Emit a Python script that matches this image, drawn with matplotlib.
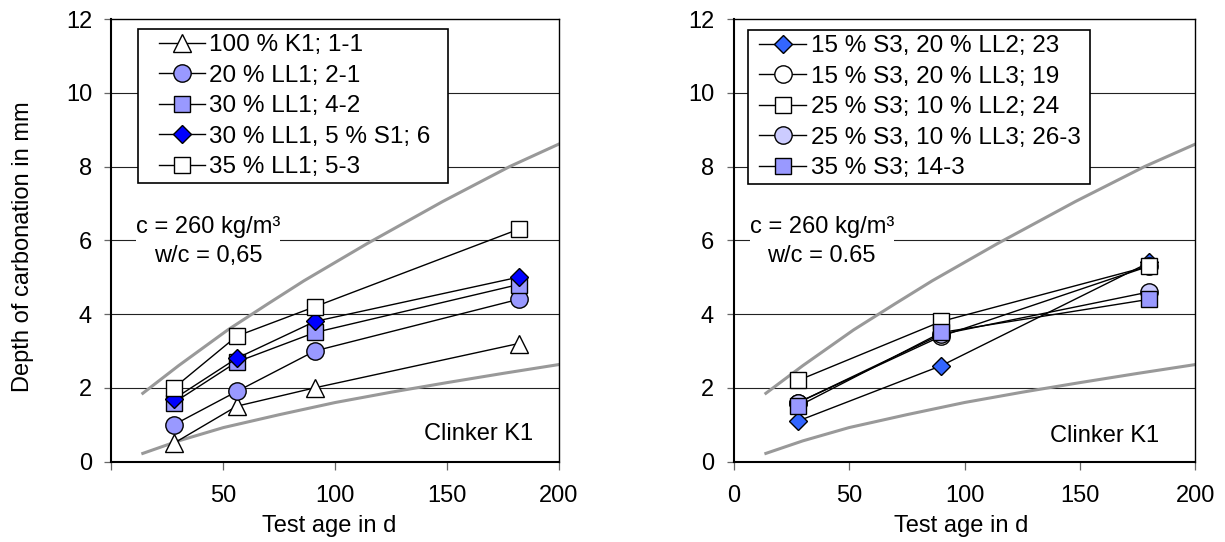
import matplotlib
matplotlib.use("Agg")
import matplotlib.pyplot as plt
from matplotlib.lines import Line2D
from matplotlib.legend_handler import HandlerLine2D

plt.rcParams['font.family'] = ['Liberation Sans', 'DejaVu Sans']

# test ages in days
age_left = [28, 56, 91, 182]
age_right = [28, 90, 180]

# depth of carbonation in mm, clinker K1 mixes
k1_100 = [0.5, 1.5, 2.0, 3.2]
ll1_20 = [1.0, 1.9, 3.0, 4.4]
ll1_30 = [1.6, 2.7, 3.5, 4.8]
ll1_30_s1_5 = [1.7, 2.8, 3.8, 5.0]
ll1_35 = [2.0, 3.4, 4.2, 6.3]

s3_15_ll2_20 = [1.1, 2.6, 5.4]
s3_15_ll3_20 = [1.6, 3.4, 5.3]
s3_25_ll2_10 = [2.2, 3.8, 5.3]
s3_25_ll3_10 = [1.6, 3.45, 4.6]
s3_35 = [1.5, 3.5, 4.4]

labels_left = ["100 % K1; 1-1", "20 % LL1; 2-1", "30 % LL1; 4-2",
               "30 % LL1, 5 % S1; 6", "35 % LL1; 5-3"]
labels_right = ["15 % S3, 20 % LL2; 23", "15 % S3, 20 % LL3; 19",
                "25 % S3; 10 % LL2; 24", "25 % S3, 10 % LL3; 26-3",
                "35 % S3; 14-3"]

# scatter band (grey curves)
upper_t = [14, 30, 52, 70, 86, 114, 148, 178, 200]
upper_d = [1.85, 2.6, 3.57, 4.28, 4.9, 5.9, 7.05, 8.0, 8.61]
lower_t = [14, 30, 50, 75, 100, 125, 150, 175, 200]
lower_d = [0.22, 0.56, 0.92, 1.27, 1.6, 1.88, 2.14, 2.39, 2.63]

FS = 17


def style_axes(ax, xlabels):
    ax.set_xlim(0, 200)
    ax.set_ylim(0, 12)
    ax.set_xticks([0, 50, 100, 150, 200])
    ax.set_xticklabels(xlabels)
    ax.set_yticks(range(0, 13, 2))
    for y in range(2, 12, 2):
        ax.axhline(y, color='#222222', lw=0.8, zorder=1)
    ax.spines['left'].set_linewidth(1.5)
    ax.spines['bottom'].set_linewidth(1.5)
    ax.spines['top'].set_linewidth(1.0)
    ax.spines['right'].set_linewidth(1.0)
    ax.tick_params(axis='x', direction='out', length=5.5, width=0.9,
                   color='#666666', labelsize=FS, pad=11.5)
    ax.tick_params(axis='y', direction='out', length=5, width=0.9,
                   color='#666666', labelsize=FS, pad=9)
    ax.set_xlabel("Test age in d", fontsize=FS)
    ax.plot(upper_t, upper_d, color='#999999', lw=2.2, zorder=2)
    ax.plot(lower_t, lower_d, color='#999999', lw=2.2, zorder=2)


fig = plt.figure(figsize=(12.25, 5.42), dpi=100)
ax1 = fig.add_axes([0.0910, 0.1485, 0.3653, 0.8164])
ax2 = fig.add_axes([0.5988, 0.1485, 0.3771, 0.8164])

style_axes(ax1, ['', '50', '100', '150', '200'])
style_axes(ax2, ['0', '50', '100', '150', '200'])

line_kw = dict(color='black', lw=1.0, mec='black', mew=1.0, zorder=4)

# left panel
ax1.plot(age_left, k1_100, marker='^', ms=12.5, mfc='white', label=labels_left[0], **line_kw)
ax1.plot(age_left, ll1_20, marker='o', ms=12.5, mfc='#9999FF', label=labels_left[1], **line_kw)
ax1.plot(age_left, ll1_30, marker='s', ms=11.5, mfc='#9999FF', label=labels_left[2], **line_kw)
ax1.plot(age_left, ll1_30_s1_5, marker='D', ms=8.8, mfc='#0000FF', label=labels_left[3], **line_kw)
ax1.plot(age_left, ll1_35, marker='s', ms=11.5, mfc='white', label=labels_left[4], **line_kw)

# right panel
ax2.plot(age_right, s3_15_ll2_20, marker='D', ms=8.8, mfc='#3366FF', label=labels_right[0], **line_kw)
ax2.plot(age_right, s3_15_ll3_20, marker='o', ms=12.5, mfc='white', label=labels_right[1], **line_kw)
ax2.plot(age_right, s3_25_ll2_10, marker='s', ms=11.5, mfc='white', label=labels_right[2], **line_kw)
ax2.plot(age_right, s3_25_ll3_10, marker='o', ms=12.5, mfc='#CCCCFF', label=labels_right[3], **line_kw)
ax2.plot(age_right, s3_35, marker='s', ms=11.5, mfc='#9999FF', label=labels_right[4], **line_kw)

ax1.set_ylabel("Depth of carbonation in mm", fontsize=FS)
ax1.yaxis.set_label_coords(-0.174, 0.485)
ax1.xaxis.set_label_coords(0.486, -0.121)
ax2.xaxis.set_label_coords(0.492, -0.121)

legend_kw = dict(loc='upper left', mode='expand', borderaxespad=0, fontsize=17.5,
                 fancybox=False, edgecolor='black', framealpha=1, borderpad=0.2,
                 labelspacing=0.35, handletextpad=0.2)
leg1 = ax1.legend(bbox_to_anchor=(0.0592, 0, 0.6927, 0.9765), handlelength=2.54,
                  handler_map={Line2D: HandlerLine2D(xpad=0.65)}, **legend_kw)
leg2 = ax2.legend(bbox_to_anchor=(0.0303, 0, 0.7413, 0.9742), handlelength=2.22,
                  handler_map={Line2D: HandlerLine2D(xpad=0.29)}, **legend_kw)
for leg in (leg1, leg2):
    leg.get_frame().set_linewidth(1.2)
    leg.set_zorder(6)

box = dict(facecolor='white', edgecolor='none', pad=0)
ax1.text(43.1, 5.97, "c = 260 kg/m³\nw/c = 0,65", ha='center', va='center',
         multialignment='center', fontsize=FS, linespacing=1.4, bbox=box, zorder=3)
ax2.text(38.2, 5.97, "c = 260 kg/m³\nw/c = 0.65", ha='center', va='center',
         multialignment='center', fontsize=FS, linespacing=1.4, bbox=box, zorder=3)

ax1.text(188.4, 0.58, "Clinker K1", ha='right', va='baseline', fontsize=FS)
ax2.text(184.2, 0.54, "Clinker K1", ha='right', va='baseline', fontsize=FS)

fig.savefig("out.png", dpi=100)
